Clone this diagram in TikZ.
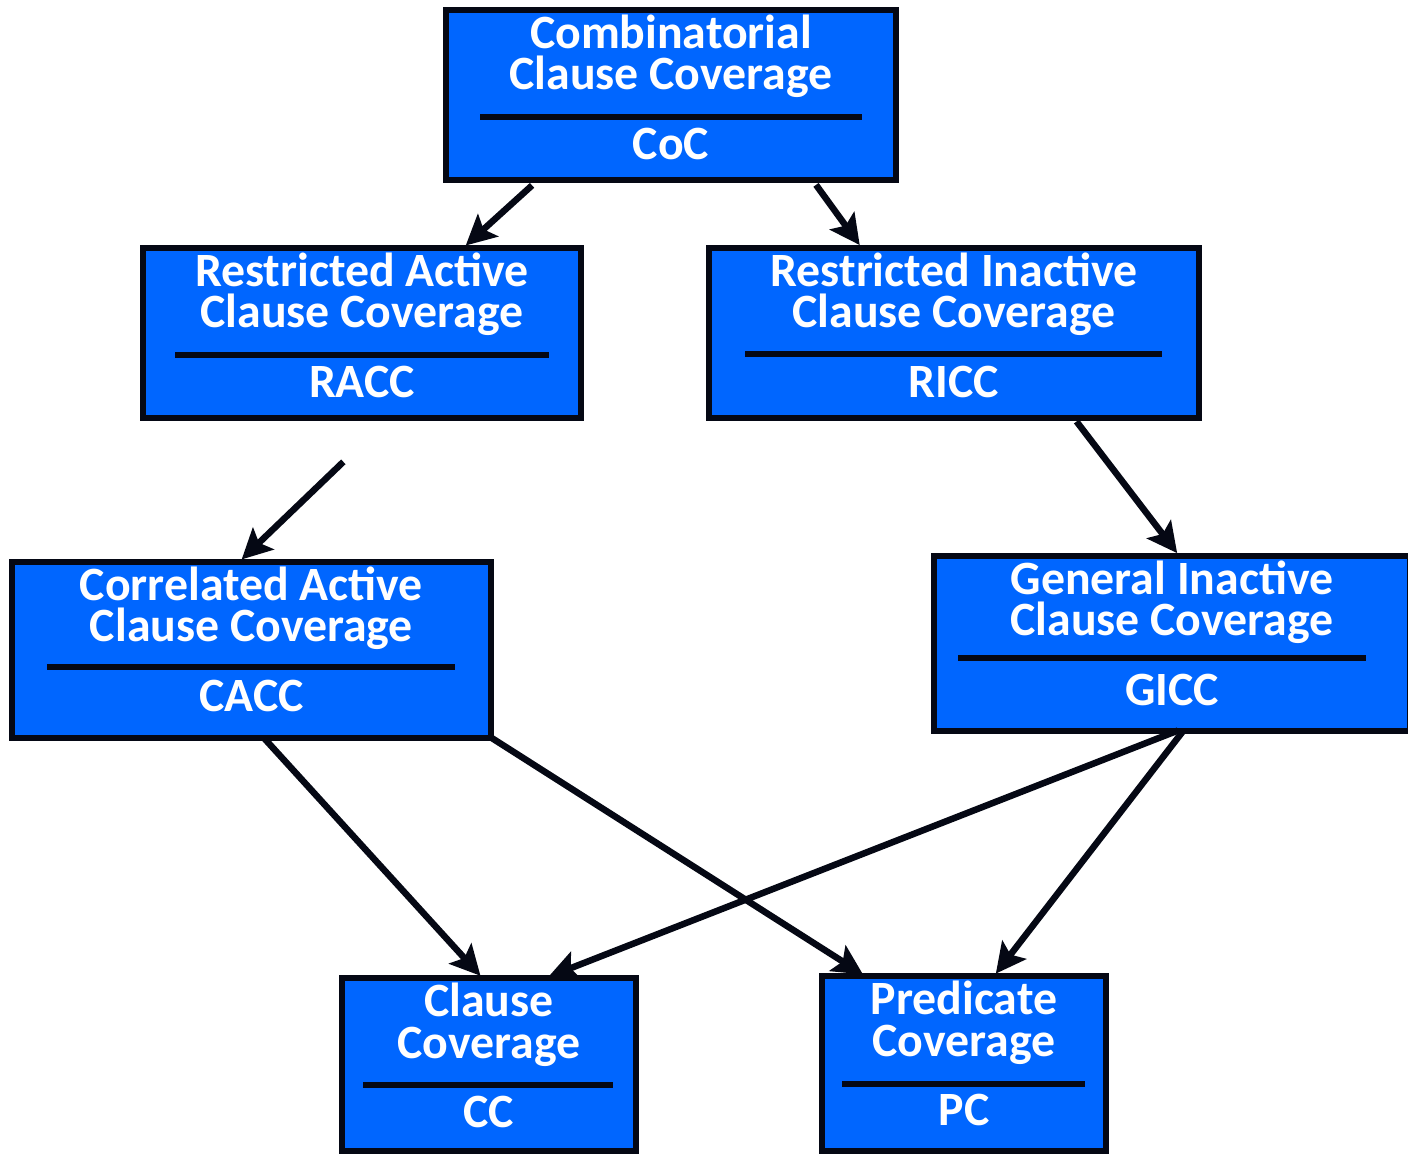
\documentclass[tikz,border=0pt]{standalone}
\usepackage{fontspec}
\setmainfont{Carlito}
\usetikzlibrary{arrows.meta}
\definecolor{critblue}{HTML}{0066FF}
\definecolor{critink}{HTML}{050814}

\begin{document}
\begin{tikzpicture}[x=1mm, y=1mm]
\tikzstyle{every node}+=[inner sep=0pt]
\tikzstyle{critbox}=[draw=critink, fill=critblue, line width=0.6mm, outer sep=0pt]
\tikzstyle{crittext}=[text=white, font=\fontsize{13.6}{11.7}\selectfont\bfseries, align=center, anchor=base]
\tikzstyle{divider}=[critink, line width=0.55mm]
\tikzstyle{subsumes}=[critink, line width=0.65mm, -{Stealth[length=3mm,width=3mm,inset=0.6mm]}, shorten >=0.3mm]
\useasboundingbox (0,0) rectangle (140.8,-115.4);
\node [critbox, minimum width=45mm, minimum height=17.05mm] (coc) at (67.1,-9.475) {};
\node [crittext] (cocT) at ([yshift=-8.0mm]coc.north) {Combinatorial\\Clause Coverage};
\draw [divider] ([xshift=3.4mm,yshift=-10.75mm]coc.north west) -- ([xshift=-3.4mm,yshift=-10.75mm]coc.north east);
\node [crittext] (cocA) at ([yshift=-14.95mm]coc.north) {CoC};
\node [critbox, minimum width=43.75mm, minimum height=17mm] (racc) at (36.2,-33.25) {};
\node [crittext] (raccT) at ([yshift=-8.0mm]racc.north) {Restricted Active\\Clause Coverage};
\draw [divider] ([xshift=3.2mm,yshift=-10.75mm]racc.north west) -- ([xshift=-3.2mm,yshift=-10.75mm]racc.north east);
\node [crittext] (raccA) at ([yshift=-14.95mm]racc.north) {RACC};
\node [critbox, minimum width=49mm, minimum height=17mm] (ricc) at (95.4,-33.25) {};
\node [crittext] (riccT) at ([yshift=-8.0mm]ricc.north) {Restricted Inactive\\Clause Coverage};
\draw [divider] ([xshift=3.6mm,yshift=-10.65mm]ricc.north west) -- ([xshift=-3.7mm,yshift=-10.65mm]ricc.north east);
\node [crittext] (riccA) at ([yshift=-14.95mm]ricc.north) {RICC};
\node [critbox, minimum width=47.9mm, minimum height=17.6mm] (cacc) at (25.15,-64.95) {};
\node [crittext] (caccT) at ([yshift=-8.0mm]cacc.north) {Correlated Active\\Clause Coverage};
\draw [divider] ([xshift=3.5mm,yshift=-10.55mm]cacc.north west) -- ([xshift=-3.6mm,yshift=-10.55mm]cacc.north east);
\node [crittext] (caccA) at ([yshift=-14.95mm]cacc.north) {CACC};
\node [critbox, minimum width=47.6mm, minimum height=17.5mm] (gicc) at (117.2,-64.3) {};
\node [crittext] (giccT) at ([yshift=-8.0mm]gicc.north) {General Inactive\\Clause Coverage};
\draw [divider] ([xshift=2.4mm,yshift=-10.25mm]gicc.north west) -- ([xshift=-4.4mm,yshift=-10.25mm]gicc.north east);
\node [crittext] (giccA) at ([yshift=-14.95mm]gicc.north) {GICC};
\node [critbox, minimum width=29.4mm, minimum height=17.3mm] (cc) at (48.9,-106.45) {};
\node [crittext] (ccT) at ([yshift=-8.0mm]cc.north) {Clause\\Coverage};
\draw [divider] ([xshift=2.1mm,yshift=-10.7mm]cc.north west) -- ([xshift=-2.3mm,yshift=-10.7mm]cc.north east);
\node [crittext] (ccA) at ([yshift=-14.95mm]cc.north) {CC};
\node [critbox, minimum width=28.4mm, minimum height=17.5mm] (pc) at (96.4,-106.35) {};
\node [crittext] (pcT) at ([yshift=-8.0mm]pc.north) {Predicate\\Coverage};
\draw [divider] ([xshift=2.0mm,yshift=-10.8mm]pc.north west) -- ([xshift=-2.1mm,yshift=-10.8mm]pc.north east);
\node [crittext] (pcA) at ([yshift=-14.95mm]pc.north) {PC};
\draw [subsumes, shorten <=0.8mm] ([xshift=-13.3mm]coc.south) -- ([xshift=10.15mm]racc.north);
\draw [subsumes, shorten <=0.6mm] ([xshift=14.15mm]coc.south) -- ([xshift=-9.25mm]ricc.north);
\draw [subsumes, shorten <=6.4mm] ([xshift=2.75mm]racc.south) -- ([xshift=-1.2mm]cacc.north);
\draw [subsumes, shorten <=0.5mm] ([xshift=11.95mm]ricc.south) -- ([xshift=0.7mm]gicc.north);
\draw [subsumes] ([xshift=1.2mm]cacc.south) -- ([xshift=-0.65mm]cc.north);
\draw [subsumes] (cacc.south east) -- ([xshift=-9.85mm]pc.north);
\draw [subsumes] ([xshift=0.6mm]gicc.south) -- ([xshift=5.65mm]cc.north);
\draw [subsumes] ([xshift=1.15mm]gicc.south) -- ([xshift=3.0mm]pc.north);
\end{tikzpicture}
\end{document}
